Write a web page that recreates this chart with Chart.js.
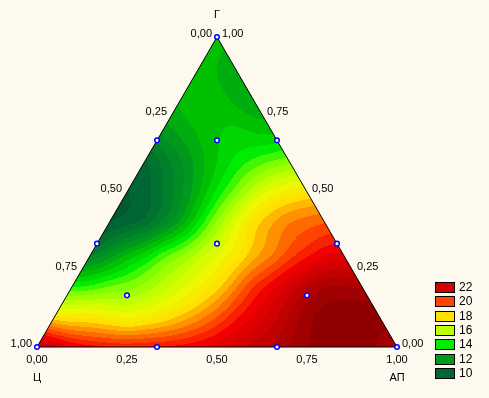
<!DOCTYPE html>
<html>
<head>
<meta charset="utf-8">
<script src="https://cdn.jsdelivr.net/npm/chart.js@4.4.1/dist/chart.umd.min.js"></script>
<style>
body { margin: 0; background: #fdf9ef; }
#wrap { width: 489px; height: 398px; }
</style>
</head>
<body>
<div id="wrap"><canvas id="ternChart" width="489" height="398"></canvas></div>
<script>
// response on a 0.1 lattice: one row per Г level, АП = 0, 0.1, ... along each row
var latticeSteps = [0, 0.1, 0.2, 0.3, 0.4, 0.5, 0.6, 0.7, 0.8, 0.9, 1];
var surfaceRows = [
    [23, 21.5, 21, 21, 21.2, 21.8, 22.7, 23.5, 24.3, 24.3, 23.2],
    [18, 17.8, 17.3, 18, 19.2, 20.8, 22.2, 23.8, 24.3, 24.3],
    [14.3, 14.9, 15.6, 16.8, 18.2, 20.4, 22, 23.4, 23.3],
    [11.4, 13, 14.7, 16.2, 17.8, 19.4, 20.8, 21.6],
    [10, 10.7, 12.7, 15.6, 18.2, 19.5, 20],
    [10, 11, 13, 15.2, 17.2, 18],
    [10.4, 12, 13.5, 14.6, 15.3],
    [12.2, 13.1, 13.6, 13.3],
    [13.1, 13.2, 12.5],
    [13.2, 12.6],
    [13.2]
];

// experiment points (fractions of АП and Г, Ц is the rest)
var pointsAP = [0, 0, 1/3, 1/6, 0, 1/3, 2/3, 1/6, 2/3, 0, 1/3, 2/3, 1];
var pointsG  = [1, 2/3, 2/3, 2/3, 1/3, 1/3, 1/3, 1/6, 1/6, 0, 0, 0, 0];

var tickValues = [0, 0.25, 0.5, 0.75, 1];
var tickLabels = ['0,00', '0,25', '0,50', '0,75', '1,00'];

var legendValues = [22, 20, 18, 16, 14, 12, 10];
var colorStops = [9.5, 10, 11, 12, 13, 14, 15, 16, 17, 18, 19, 20, 21, 22, 23, 24];
var stopColors = ['#005a30', '#006633', '#00802a', '#00991e', '#00c000', '#00ec00', '#80ff00', '#c0ff00',
                  '#eef800', '#ffe000', '#ff9000', '#ff4400', '#f00000', '#d20000', '#b00000', '#900000'];

var H = Math.sqrt(3) / 2;
var bg = '#fdf9ef';
var smoothing = 0.0005;

function hexRgb(h) {
    return [parseInt(h.substr(1, 2), 16), parseInt(h.substr(3, 2), 16), parseInt(h.substr(5, 2), 16)];
}
var stopRgb = stopColors.map(hexRgb);

// colour of the 0.5 wide band the value falls in
function bandRgb(v) {
    var lv = Math.floor(v * 2) / 2;
    if (lv <= colorStops[0]) return stopRgb[0];
    for (var k = 1; k < colorStops.length; k++) {
        if (lv <= colorStops[k]) {
            var t = (lv - colorStops[k - 1]) / (colorStops[k] - colorStops[k - 1]);
            var c0 = stopRgb[k - 1], c1 = stopRgb[k];
            return [Math.round(c0[0] + (c1[0] - c0[0]) * t), Math.round(c0[1] + (c1[1] - c0[1]) * t), Math.round(c0[2] + (c1[2] - c0[2]) * t)];
        }
    }
    return stopRgb[stopRgb.length - 1];
}

function toXY(a, g) { return { x: a + g / 2, y: g * H }; }

// smoothing thin plate spline through the lattice values
var nodes = [];
surfaceRows.forEach(function (row, i) {
    row.forEach(function (v, j) {
        var p = toXY(latticeSteps[j], latticeSteps[i]);
        nodes.push({ x: p.x, y: p.y, v: v });
    });
});
function kern(r2) { return r2 > 0 ? 0.5 * r2 * Math.log(r2) : 0; }
function solve(M, b) {
    var n = b.length;
    for (var c = 0; c < n; c++) {
        var piv = c;
        for (var r = c + 1; r < n; r++) if (Math.abs(M[r][c]) > Math.abs(M[piv][c])) piv = r;
        var tmp = M[c]; M[c] = M[piv]; M[piv] = tmp;
        var tb = b[c]; b[c] = b[piv]; b[piv] = tb;
        for (var r2 = c + 1; r2 < n; r2++) {
            var f = M[r2][c] / M[c][c];
            if (f === 0) continue;
            for (var k = c; k < n; k++) M[r2][k] -= f * M[c][k];
            b[r2] -= f * b[c];
        }
    }
    var x = new Array(n);
    for (var i = n - 1; i >= 0; i--) {
        var s = b[i];
        for (var j = i + 1; j < n; j++) s -= M[i][j] * x[j];
        x[i] = s / M[i][i];
    }
    return x;
}
var tps = (function () {
    var n = nodes.length, M = [], b = [];
    for (var i = 0; i < n; i++) {
        var row = [];
        for (var j = 0; j < n; j++) {
            var dx = nodes[i].x - nodes[j].x, dy = nodes[i].y - nodes[j].y;
            row.push(kern(dx * dx + dy * dy) + (i === j ? smoothing : 0));
        }
        row.push(1, nodes[i].x, nodes[i].y);
        M.push(row); b.push(nodes[i].v);
    }
    var r1 = [], r2 = [], r3 = [];
    for (var k = 0; k < n; k++) { r1.push(1); r2.push(nodes[k].x); r3.push(nodes[k].y); }
    M.push(r1.concat([0, 0, 0])); M.push(r2.concat([0, 0, 0])); M.push(r3.concat([0, 0, 0]));
    b.push(0, 0, 0);
    return solve(M, b);
})();
function surfaceAt(x, y) {
    var n = nodes.length, s = tps[n] + tps[n + 1] * x + tps[n + 2] * y;
    for (var i = 0; i < n; i++) {
        var dx = x - nodes[i].x, dy = y - nodes[i].y;
        s += tps[i] * kern(dx * dx + dy * dy);
    }
    return s;
}

var designData = pointsAP.map(function (a, k) { return toXY(a, pointsG[k]); });

var ternaryPlugin = {
    id: 'ternary',
    beforeDraw: function (chart) {
        var ctx = chart.ctx;
        ctx.save();
        ctx.fillStyle = bg;
        ctx.fillRect(0, 0, chart.width, chart.height);
        ctx.restore();
    },
    beforeDatasetsDraw: function (chart) {
        var ctx = chart.ctx, xs = chart.scales.x, ys = chart.scales.y;
        var w = chart.width, h = chart.height;
        var off = document.createElement('canvas');
        off.width = w; off.height = h;
        var octx = off.getContext('2d');
        var img = octx.createImageData(w, h);
        for (var py = 0; py < h; py++) {
            var y = ys.getValueForPixel(py + 0.5);
            var g = y / H;
            if (g < 0 || g > 1) continue;
            for (var px = 0; px < w; px++) {
                var x = xs.getValueForPixel(px + 0.5);
                var a = x - g / 2;
                if (a < 0 || a + g > 1) continue;
                var c = bandRgb(surfaceAt(x, y));
                var p = (py * w + px) * 4;
                img.data[p] = c[0]; img.data[p + 1] = c[1]; img.data[p + 2] = c[2]; img.data[p + 3] = 255;
            }
        }
        octx.putImageData(img, 0, 0);
        ctx.drawImage(off, 0, 0);

        // triangle outline
        var A = toXY(0, 0), B = toXY(1, 0), C = toXY(0, 1);
        ctx.save();
        ctx.strokeStyle = '#000';
        ctx.lineWidth = 1;
        ctx.beginPath();
        ctx.moveTo(xs.getPixelForValue(A.x), ys.getPixelForValue(A.y));
        ctx.lineTo(xs.getPixelForValue(B.x), ys.getPixelForValue(B.y));
        ctx.lineTo(xs.getPixelForValue(C.x), ys.getPixelForValue(C.y));
        ctx.closePath();
        ctx.stroke();
        ctx.restore();
    },
    afterDraw: function (chart) {
        var ctx = chart.ctx, xs = chart.scales.x, ys = chart.scales.y;
        ctx.save();
        ctx.fillStyle = '#000';
        ctx.font = '11px "Liberation Sans", Arial, sans-serif';
        ctx.textBaseline = 'middle';
        tickValues.forEach(function (t, k) {
            // left side: Ц, 1 at the bottom corner
            var pl = toXY(0, 1 - t);
            ctx.textAlign = 'right';
            ctx.fillText(tickLabels[k], xs.getPixelForValue(pl.x) - 5, ys.getPixelForValue(pl.y) - 3);
            // right side: Г, 0 at the bottom corner
            var pr = toXY(1 - t, t);
            ctx.textAlign = 'left';
            ctx.fillText(tickLabels[k], xs.getPixelForValue(pr.x) + 5, ys.getPixelForValue(pr.y) - 3);
            // bottom: АП
            var pb = toXY(t, 0);
            ctx.textAlign = 'center';
            ctx.fillText(tickLabels[k], xs.getPixelForValue(pb.x), ys.getPixelForValue(pb.y) + 13);
        });
        var top = toXY(0, 1), left = toXY(0, 0), right = toXY(1, 0);
        ctx.textAlign = 'center';
        ctx.fillText('Г', xs.getPixelForValue(top.x), ys.getPixelForValue(top.y) - 22);
        ctx.fillText('Ц', xs.getPixelForValue(left.x), ys.getPixelForValue(left.y) + 31);
        ctx.fillText('АП', xs.getPixelForValue(right.x), ys.getPixelForValue(right.y) + 31);

        // legend
        ctx.font = '12px "Liberation Sans", Arial, sans-serif';
        legendValues.forEach(function (v, k) {
            var by = Math.round(282 + k * 14.3);
            var c = bandRgb(v);
            ctx.fillStyle = 'rgb(' + c.join(',') + ')';
            ctx.fillRect(435, by, 19, 10);
            ctx.strokeStyle = '#000';
            ctx.strokeRect(435.5, by + 0.5, 19, 10);
            ctx.fillStyle = '#000';
            ctx.textAlign = 'left';
            ctx.fillText(String(v), 459, by + 5.5);
        });
        ctx.restore();
    }
};

var ctx = document.getElementById('ternChart');
var myChart = new Chart(ctx, {
    type: 'scatter',
    data: {
        datasets: [{
            label: 'опыты',
            data: designData,
            pointRadius: 2.3,
            pointBorderWidth: 1.5,
            pointBorderColor: '#0000ff',
            pointBackgroundColor: '#ffffff'
        }]
    },
    options: {
        responsive: false,
        animation: false,
        layout: { padding: 0, autoPadding: false },
        scales: {
            x: { display: false, min: -37 / 360, max: 452 / 360 },
            y: { display: false, min: -51 / (310 / H), max: 347 / (310 / H) }
        },
        plugins: {
            legend: { display: false },
            tooltip: { enabled: false }
        }
    },
    plugins: [ternaryPlugin]
});
</script>
</body>
</html>
